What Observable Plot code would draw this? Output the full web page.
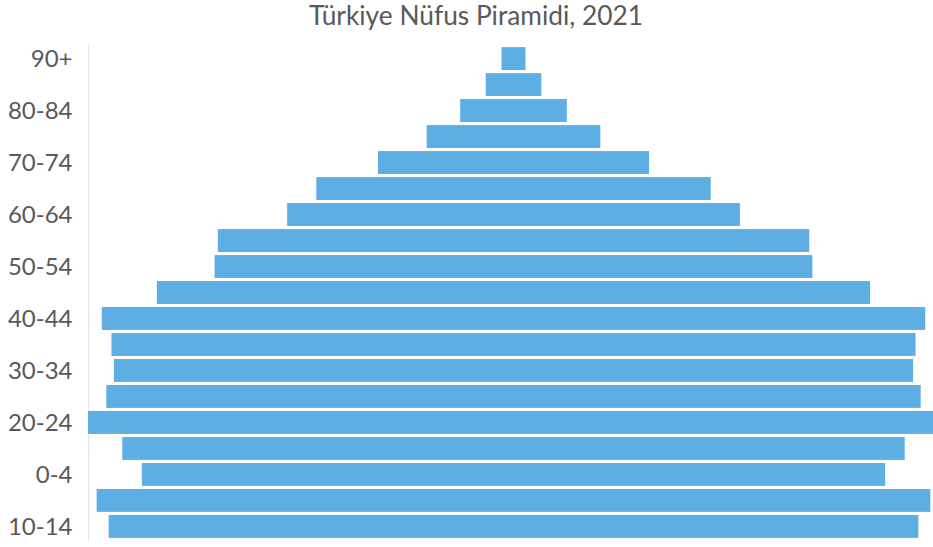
<!DOCTYPE html>
<html lang="tr">
<head>
<meta charset="utf-8">
<script src="https://cdn.jsdelivr.net/npm/d3@7"></script>
<script src="https://cdn.jsdelivr.net/npm/@observablehq/plot@0.6"></script>
<style>
  html, body { margin: 0; padding: 0; background: #fff; overflow: hidden; }
  #title {
    width: 952px;
    height: 36px;
    line-height: 30px;
    text-align: center;
    font-family: Lato, "Open Sans", sans-serif;
    font-size: 26.3px;
    color: #595959;
    white-space: nowrap;
  }
  #chart svg { display: block; }
</style>
</head>
<body>
<div id="title">Türkiye Nüfus Piramidi, 2021</div>
<div id="chart"></div>
<script>
// Age groups, top of the pyramid first
const ages = [
  "90+", "85-89", "80-84", "75-79", "70-74", "65-69", "60-64", "55-59",
  "50-54", "45-49", "40-44", "35-39", "30-34", "25-29", "20-24", "15-19",
  "0-4", "5-9", "10-14"
];

// Population per age group (thousands), split evenly around the centre line
const nufus = [
  191, 443, 850, 1384, 2160, 3143, 3608, 4713,
  4764, 5685, 6562, 6408, 6368, 6490, 6782, 6235,
  5924, 6644, 6453
];

// Only every other age group gets a label on the axis
const shownLabels = ages.filter((_, i) => i % 2 === 0);

const rows = ages.map((age, i) => ({age, n: nufus[i]}));
const half = d3.max(nufus) / 2;

const chart = Plot.plot({
  width: 933,
  height: 511,
  marginTop: 8,
  marginBottom: 6,
  marginLeft: 88,
  marginRight: 0,
  style: {
    fontFamily: "Lato, 'Open Sans', sans-serif",
    color: "#595959",
    background: "#fff"
  },
  x: {domain: [-half, half], range: [88, 939], axis: null},
  y: {domain: ages, padding: 0.12, round: false, axis: null},
  marks: [
    Plot.ruleX([-half], {stroke: "#e4e4e4", strokeWidth: 1}),
    Plot.barX(rows, {
      y: "age",
      x1: d => -d.n / 2,
      x2: d => d.n / 2,
      fill: "#5caee3"
    }),
    Plot.axisY(shownLabels, {
      tickSize: 0,
      tickPadding: 16,
      fontSize: 24,
      label: null
    })
  ]
});

document.getElementById("chart").appendChild(chart);
</script>
</body>
</html>
